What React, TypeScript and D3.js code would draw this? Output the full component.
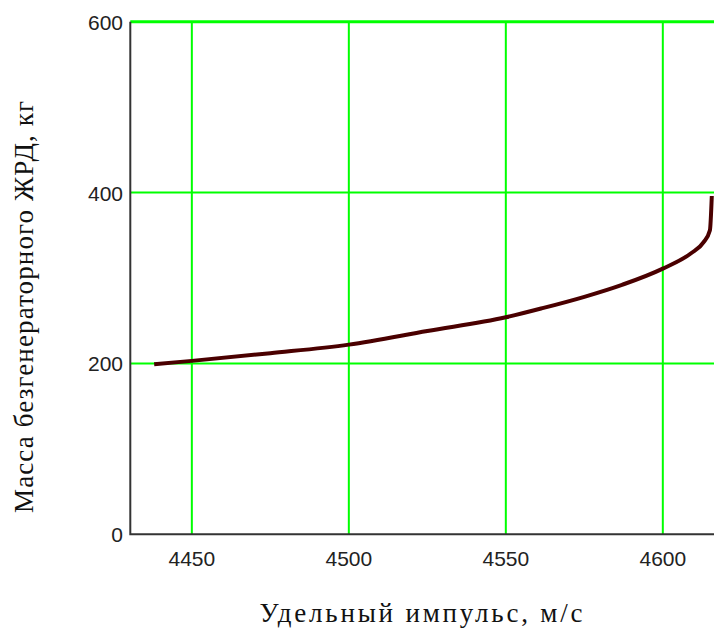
import React, { useEffect, useRef } from 'react';
import * as d3 from 'd3';

// values
const impulse = [4438, 4450, 4475, 4500, 4525, 4550, 4562, 4575, 4587, 4600, 4609, 4613, 4615, 4615.6];
const mass = [199, 203, 212, 222, 238, 254, 265, 278, 292, 311, 329, 342, 356, 396];

const xTicks = [4450, 4500, 4550, 4600];
const yTicks = [0, 200, 400, 600];

const xTitle = 'Удельный импульс, м/с';
const yTitle = 'Масса безгенераторного ЖРД, кг';

const App = () => {
  const ref = useRef<SVGSVGElement>(null);

  useEffect(() => {
    const width = 714;
    const height = 634;
    const left = 130.3;
    const bottom = 534.3;
    const top = 21.7;

    const svg = d3.select(ref.current);
    svg.selectAll('*').remove();

    const x = d3.scaleLinear().domain([4430.4, 4616.3]).range([left, width]);
    const y = d3.scaleLinear().domain([0, 600]).range([bottom, top]);

    // grid
    svg.append('g')
      .selectAll('line')
      .data(xTicks)
      .enter().append('line')
      .attr('x1', d => x(d)).attr('x2', d => x(d))
      .attr('y1', top).attr('y2', bottom)
      .attr('stroke', '#00ff00')
      .attr('stroke-width', 2);

    svg.append('g')
      .selectAll('line')
      .data(yTicks.filter(d => d > 0))
      .enter().append('line')
      .attr('x1', left).attr('x2', width)
      .attr('y1', d => y(d)).attr('y2', d => y(d))
      .attr('stroke', '#00ff00')
      .attr('stroke-width', d => (d === 600 ? 3 : 2));

    // axes
    svg.append('path')
      .attr('d', `M${left},${top} V${bottom} H${width}`)
      .attr('fill', 'none')
      .attr('stroke', '#333')
      .attr('stroke-width', 2);

    // tick labels
    svg.append('g')
      .selectAll('text')
      .data(xTicks)
      .enter().append('text')
      .attr('x', d => x(d))
      .attr('y', 566)
      .attr('text-anchor', 'middle')
      .style('font-family', '"Liberation Sans", Arial, sans-serif')
      .style('font-size', '21px')
      .attr('fill', '#222')
      .text(d => d);

    svg.append('g')
      .selectAll('text')
      .data(yTicks)
      .enter().append('text')
      .attr('x', 123)
      .attr('y', d => y(d) + 8)
      .attr('text-anchor', 'end')
      .style('font-family', '"Liberation Sans", Arial, sans-serif')
      .style('font-size', '21px')
      .attr('fill', '#222')
      .text(d => d);

    // curve
    const line = d3.line<number>()
      .x((d, i) => x(impulse[i]))
      .y(d => y(d))
      .curve(d3.curveMonotoneX);

    svg.append('path')
      .attr('d', line(mass))
      .attr('fill', 'none')
      .attr('stroke', '#4a0000')
      .attr('stroke-width', 4)
      .attr('stroke-linejoin', 'round');

    // titles
    svg.append('text')
      .attr('x', 421)
      .attr('y', 622)
      .attr('text-anchor', 'middle')
      .attr('textLength', 323)
      .attr('lengthAdjust', 'spacing')
      .style('font-family', '"Liberation Serif", "Times New Roman", serif')
      .style('font-size', '27px')
      .attr('fill', '#111')
      .text(xTitle);

    svg.append('text')
      .attr('transform', `translate(33, 307) rotate(-90)`)
      .attr('text-anchor', 'middle')
      .attr('textLength', 412)
      .attr('lengthAdjust', 'spacing')
      .style('font-family', '"Liberation Serif", "Times New Roman", serif')
      .style('font-size', '27px')
      .attr('fill', '#111')
      .text(yTitle);
  }, []);

  return (
    <svg
      ref={ref}
      width={714}
      height={634}
      style={{ position: 'absolute', left: 0, top: 0, background: '#fff' }}
    />
  );
};

export default App;
